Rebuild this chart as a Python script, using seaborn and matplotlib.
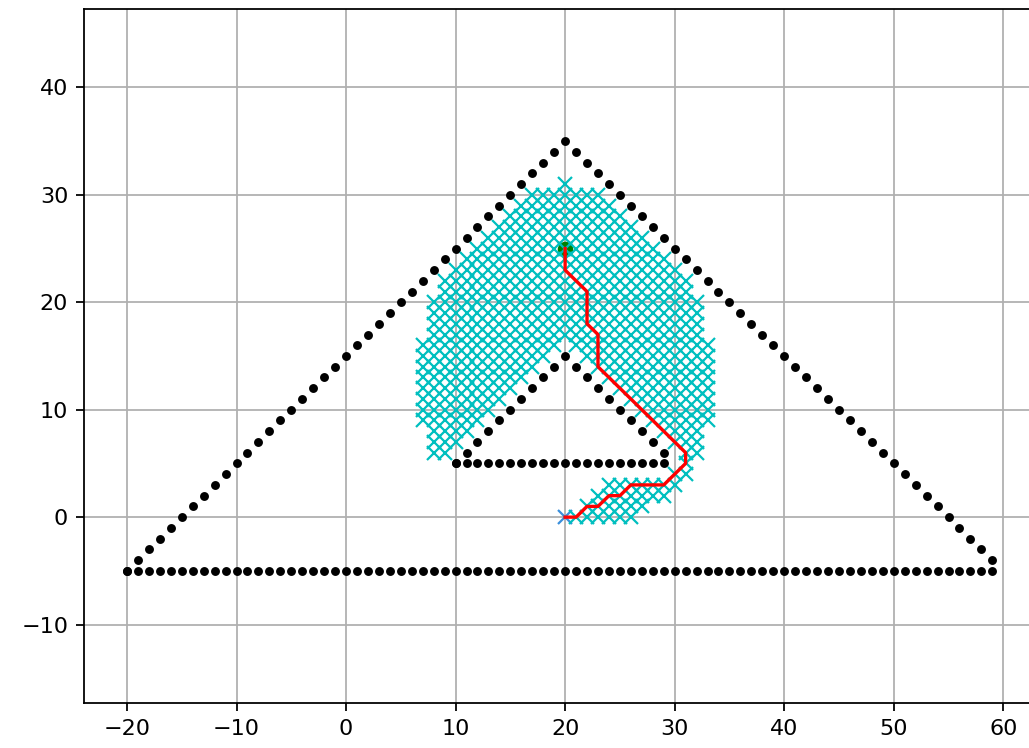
import numpy as np
import pandas as pd
import matplotlib
matplotlib.use("Agg")
import matplotlib.pyplot as plt
import seaborn as sns

# Obstacle walls: each wall is a run of unit-spaced points (start, end)
obstacle_walls = [
    ((-20, -5), (59, -5)),   # outer base
    ((-20, -5), (20, 35)),   # outer left side
    ((21, 34), (59, -4)),    # outer right side
    ((10, 5), (29, 5)),      # inner base
    ((10, 5), (20, 15)),     # inner left side
    ((21, 14), (29, 6)),     # inner right side
]

start_xy = (20, 25)
goal_xy = (20, 0)

# Cells visited by the search, row by row: y -> list of (x_first, x_last)
visited_rows = [
    (31, [(20, 20)]),
    (30, [(17, 23)]),
    (29, [(16, 24)]),
    (28, [(15, 25)]),
    (27, [(14, 26)]),
    (26, [(13, 27)]),
    (25, [(12, 28)]),
    (24, [(11, 29)]),
    (23, [(10, 30)]),
    (22, [(9, 31)]),
    (21, [(9, 31)]),
    (20, [(8, 32)]),
    (19, [(8, 32)]),
    (18, [(8, 32)]),
    (17, [(8, 32)]),
    (16, [(7, 19), (21, 33)]),
    (15, [(7, 18), (22, 33)]),
    (14, [(7, 17), (23, 33)]),
    (13, [(7, 16), (24, 33)]),
    (12, [(7, 15), (25, 33)]),
    (11, [(7, 14), (26, 33)]),
    (10, [(7, 13), (27, 33)]),
    (9, [(7, 12), (28, 33)]),
    (8, [(8, 11), (29, 32)]),
    (7, [(8, 10), (30, 32)]),
    (6, [(8, 9), (31, 32)]),
    (5, [(31, 31)]),
    (4, [(30, 31)]),
    (3, [(24, 30)]),
    (2, [(23, 29)]),
    (1, [(22, 27)]),
    (0, [(21, 26)]),
]

# Final route from start to goal
path_x = [20, 20, 20, 21, 22, 22, 22, 22, 23, 23, 23, 23, 24, 25, 26, 27,
          28, 29, 30, 31, 31, 30, 29, 28, 27, 26, 25, 24, 23, 22, 21, 20]
path_y = [25, 24, 23, 22, 21, 20, 19, 18, 17, 16, 15, 14, 13, 12, 11, 10,
          9, 8, 7, 6, 5, 4, 3, 3, 3, 3, 2, 2, 1, 1, 0, 0]

x_ticks = [-20, -10, 0, 10, 20, 30, 40, 50, 60]
y_ticks = [-10, 0, 10, 20, 30, 40]


def wall_points(p0, p1):
    n = max(abs(p1[0] - p0[0]), abs(p1[1] - p0[1]))
    xs = np.linspace(p0[0], p1[0], n + 1).round().astype(int)
    ys = np.linspace(p0[1], p1[1], n + 1).round().astype(int)
    return xs, ys


obs_x, obs_y = [], []
for p0, p1 in obstacle_walls:
    xs, ys = wall_points(p0, p1)
    obs_x.extend(xs)
    obs_y.extend(ys)
obstacles = pd.DataFrame({"x": obs_x, "y": obs_y})

vis_x, vis_y = [], []
for y, spans in visited_rows:
    for x0, x1 in spans:
        for x in range(x0, x1 + 1):
            vis_x.append(x)
            vis_y.append(y)
visited = pd.DataFrame({"x": vis_x, "y": vis_y})
route = pd.DataFrame({"x": path_x, "y": path_y})

W, H, DPI = 1029, 748, 160
fig = plt.figure(figsize=(W / DPI, H / DPI), dpi=DPI)
left, right, top, bottom = 83.7, 1035.6, 9.0, 703.0
ax = fig.add_axes([left / W, (H - bottom) / H, (right - left) / W, (bottom - top) / H])

common = dict(estimator=None, sort=False, linestyle="", ax=ax, legend=False)
sns.lineplot(data=obstacles, x="x", y="y", marker=".", markersize=6,
             color="k", markerfacecolor="k", markeredgecolor="k",
             markeredgewidth=1.0, **common)
sns.lineplot(x=[start_xy[0]], y=[start_xy[1]], marker="o", markersize=6,
             color="g", markerfacecolor="g", markeredgecolor="g",
             markeredgewidth=1.0, **common)
sns.lineplot(x=[goal_xy[0]], y=[goal_xy[1]], marker="x", markersize=6,
             color="#3a8fdc", markeredgecolor="#3a8fdc",
             markeredgewidth=1.0, **common)
sns.lineplot(data=visited, x="x", y="y", marker="x", markersize=6,
             color="c", markeredgecolor="c", markeredgewidth=1.0, **common)
sns.lineplot(data=route, x="x", y="y", estimator=None, sort=False,
             color="r", linewidth=1.5, ax=ax, legend=False)

ax.set_xlim(-23.95, 62.95)
ax.set_ylim(-17.3, 47.3)
ax.set_xticks(x_ticks)
ax.set_yticks(y_ticks)
ax.set_xlabel("")
ax.set_ylabel("")
ax.grid(True, color="#b0b0b0", linewidth=0.8)
for s in ax.spines.values():
    s.set_color("black")
    s.set_linewidth(0.8)
ax.tick_params(labelsize=10, colors="black")

fig.savefig("out.png", dpi=DPI)
